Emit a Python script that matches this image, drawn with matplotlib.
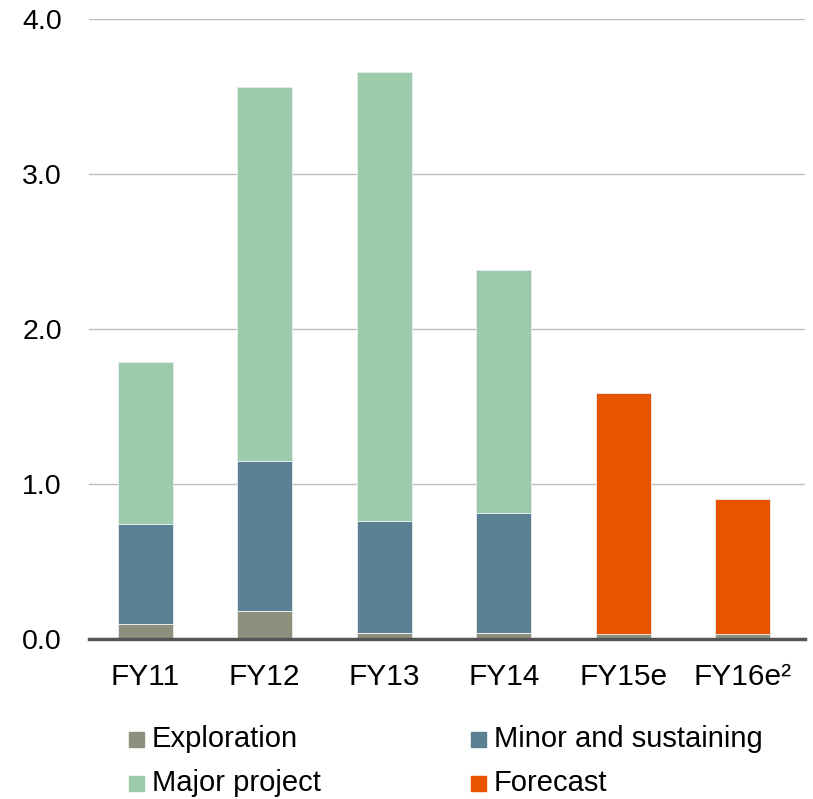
import matplotlib
matplotlib.use("Agg")
import matplotlib.pyplot as plt
from matplotlib.patches import Rectangle
import numpy as np

plt.rcParams['font.family'] = ['Liberation Sans', 'DejaVu Sans']

categories = ["FY11", "FY12", "FY13", "FY14", "FY15e", "FY16e²"]
exploration = [0.10, 0.18, 0.04, 0.04, 0.035, 0.03]
minor_sustaining = [0.64, 0.97, 0.72, 0.77, 0.0, 0.0]
major_project = [1.05, 2.41, 2.90, 1.57, 0.0, 0.0]
forecast = [0.0, 0.0, 0.0, 0.0, 1.555, 0.87]
yticks = [0.0, 1.0, 2.0, 3.0, 4.0]
legend_labels = ["Exploration", "Minor and sustaining", "Major project", "Forecast"]

c_expl = "#8F8F7E"
c_minor = "#5B7F93"
c_major = "#9BCBAA"
c_fore = "#E85300"
legend_colors = [c_expl, c_minor, c_major, c_fore]

W, H = 813, 799
fig = plt.figure(figsize=(W / 100, H / 100), dpi=100)
ax = fig.add_axes([89 / W, 1 - 639 / H, (805 - 89) / W, (639 - 19) / H])

x = np.arange(len(categories))
w = 0.46
ekw = dict(edgecolor="#E8EEF0", linewidth=0.6)
b1 = np.array(exploration)
b2 = b1 + np.array(minor_sustaining)
ax.bar(x, exploration, w, color=c_expl, zorder=3, **ekw)
ax.bar(x, minor_sustaining, w, bottom=b1, color=c_minor, zorder=3, **ekw)
ax.bar(x, major_project, w, bottom=b2, color=c_major, zorder=3, **ekw)
ax.bar(x, forecast, w, bottom=b1, color=c_fore, zorder=3, **ekw)

ax.set_xlim(-0.47, 5.52)
ax.set_ylim(0, 4.0)
ax.set_yticks(yticks)
ax.set_yticklabels([f"{v:.1f}" for v in yticks], fontsize=20.5)
ax.set_xticks(x)
ax.set_xticklabels(categories, fontsize=21.5)
ax.tick_params(axis="both", length=0, colors="black")
ax.tick_params(axis="y", pad=19.5)
ax.tick_params(axis="x", pad=17)
ax.yaxis.grid(True, color="#BDBDBD", linewidth=1.0, zorder=0)
for s in ["top", "right", "left"]:
    ax.spines[s].set_visible(False)
ax.spines["bottom"].set_color("#555555")
ax.spines["bottom"].set_linewidth(2.5)
ax.spines["bottom"].set_zorder(4)

# legend laid out in two rows, two columns (positions are text baselines)
col_x = [129, 471]
row_base = [747, 791]
sq = 15
for i, (lab, col) in enumerate(zip(legend_labels, legend_colors)):
    cx = col_x[i % 2]
    by = row_base[i // 2]
    fig.patches.append(Rectangle((cx / W, 1 - by / H), sq / W, sq / H,
                                 transform=fig.transFigure, color=col))
    fig.text((cx + sq + 8) / W, 1 - by / H, lab, fontsize=21,
             ha="left", va="baseline")

fig.savefig("out.png", dpi=100)
